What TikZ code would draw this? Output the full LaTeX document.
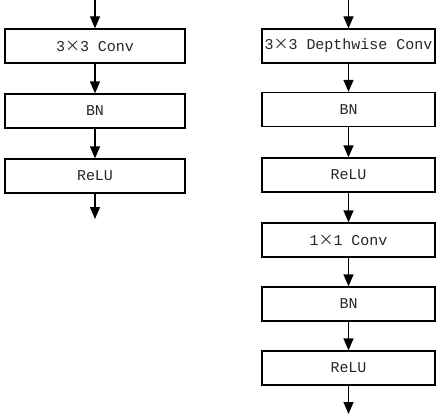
\documentclass[tikz,border=0pt]{standalone}
\usepackage{fontspec}
\setmonofont{Liberation Mono}
\newfontfamily\cjk{Noto Sans CJK SC}
\newcommand{\mul}{{\cjk ×}}
\usepackage{xcolor}
\usetikzlibrary{arrows.meta}
\tikzset{
  layer/.style={draw, line width=1.1pt, minimum height=1.02cm, inner sep=0pt,
    font=\ttfamily\fontsize{12.8}{14}\selectfont, text=black!85},
  flow/.style={line width=1.1pt, -{Triangle[length=0.36cm, width=0.3cm]}}
}
\begin{document}
\begin{tikzpicture}[x=0.03cm, y=-0.03cm]
\useasboundingbox (0,0) rectangle (440,418);
% standard convolution
\coordinate (sin) at (95,0);
\node[layer, minimum width=5.4cm] (sconv) at (95,46) {3\mul3 Conv};
\node[layer, minimum width=5.4cm] (sbn) at (95,111) {BN};
\node[layer, minimum width=5.4cm] (srelu) at (95,176) {ReLU};
\coordinate (sout) at (95,219);
\draw[flow] (sin) -- (sconv);
\draw[flow] (sconv) -- (sbn);
\draw[flow] (sbn) -- (srelu);
\draw[flow] (srelu) -- (sout);
% depthwise separable convolution
\coordinate (din) at (348.5,0);
\node[layer, minimum width=5.19cm] (dconv) at (348.5,46) {3\mul3 Depthwise Conv};
\node[layer, minimum width=5.19cm] (dbn) at (348.5,109.5) {BN};
\node[layer, minimum width=5.19cm] (drelu) at (348.5,175) {ReLU};
\node[layer, minimum width=5.19cm] (pconv) at (348.5,240) {1\mul1 Conv};
\node[layer, minimum width=5.19cm] (pbn) at (348.5,304) {BN};
\node[layer, minimum width=5.19cm] (prelu) at (348.5,368) {ReLU};
\coordinate (dout) at (348.5,414);
\draw[flow] (din) -- (dconv);
\draw[flow] (dconv) -- (dbn);
\draw[flow] (dbn) -- (drelu);
\draw[flow] (drelu) -- (pconv);
\draw[flow] (pconv) -- (pbn);
\draw[flow] (pbn) -- (prelu);
\draw[flow] (prelu) -- (dout);
\end{tikzpicture}
\end{document}
